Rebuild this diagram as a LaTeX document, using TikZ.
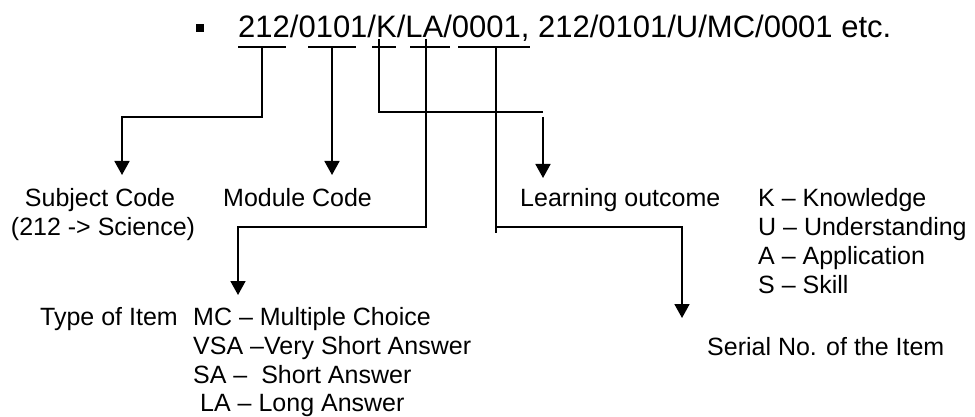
\documentclass[tikz,border=0pt]{standalone}
\usepackage{fontspec}
\setmainfont{Liberation Sans}
\usetikzlibrary{arrows.meta}
\tikzstyle{lbl}=[inner sep=0pt,anchor=base west,font=\fontsize{25}{29}\selectfont]
\tikzstyle{lnk}=[line width=1.8pt]
\tikzstyle{arr}=[lnk,-{Triangle[width=15pt,length=14pt]}]
\tikzstyle{uline}=[line width=1.8pt]
\begin{document}
\begin{tikzpicture}[x=1pt,y=-1pt]
    \useasboundingbox (0,0) rectangle (975,417);
    % the code line
    \node [fill=black,minimum size=8pt,inner sep=0pt] (bul) at (199.5,28) {};
    \node [inner sep=0pt,anchor=base west,font=\fontsize{31}{37}\selectfont] (code) at (238,38)
      {212/0101/K/LA/0001, 212/0101/U/MC/0001 etc.};
    \draw [uline] (238,47) -- (286,47);
    \draw [uline] (308,47) -- (356,47);
    \draw [uline] (372,47) -- (396,47);
    \draw [uline] (410,47) -- (450,47);
    \draw [uline] (458,47) -- (530,47);
    % labels
    \node [style=lbl,anchor=base] (subj) at (100,206) {Subject Code};
    \node [style=lbl,anchor=base] (subjx) at (103,235) {(212 -> Science)};
    \node [style=lbl] (mod) at (223,206) {Module Code};
    \node [style=lbl] (learn) at (520,206) {Learning outcome};
    \node [style=lbl] (lk) at (758,206) {K – Knowledge};
    \node [style=lbl] (lu) at (758,235) {U – Understanding};
    \node [style=lbl] (la) at (758,264) {A – Application};
    \node [style=lbl] (ls) at (758,293) {S – Skill};
    \node [style=lbl] (type) at (40,325) {Type of Item};
    \node [style=lbl] (tmc) at (193,325) {MC – Multiple Choice};
    \node [style=lbl] (tvsa) at (193,354) {VSA –Very Short Answer};
    \node [style=lbl] (tsa) at (193,383) {SA –\ \ Short Answer};
    \node [style=lbl] (tla) at (200,411) {LA – Long Answer};
    \node [style=lbl] (ser) at (707,355) {Serial No. of the Item};
    % connectors
    \coordinate (u1) at (262,47);
    \coordinate (b1) at (122,117);
    \coordinate (t1) at (122,175);
    \coordinate (u2) at (332,47);
    \coordinate (t2) at (332,175);
    \coordinate (u3) at (379,39);
    \coordinate (b3) at (543,112);
    \coordinate (s3) at (543,117);
    \coordinate (t3) at (543,178);
    \coordinate (u4) at (426,39);
    \coordinate (b4) at (238,227);
    \coordinate (t4) at (238,295);
    \coordinate (u5) at (496,47);
    \coordinate (e5) at (496,233);
    \coordinate (c5) at (496,227);
    \coordinate (t5) at (682,318);
    \draw [style=arr] (u1) |- (b1) -- (t1);
    \draw [style=arr] (u2) -- (t2);
    \draw [style=lnk] (u3) |- (b3);
    \draw [style=arr] (s3) -- (t3);
    \draw [style=arr] (u4) |- (b4) -- (t4);
    \draw [style=lnk] (u5) -- (e5);
    \draw [style=arr] (c5) -| (t5);
\end{tikzpicture}
\end{document}
